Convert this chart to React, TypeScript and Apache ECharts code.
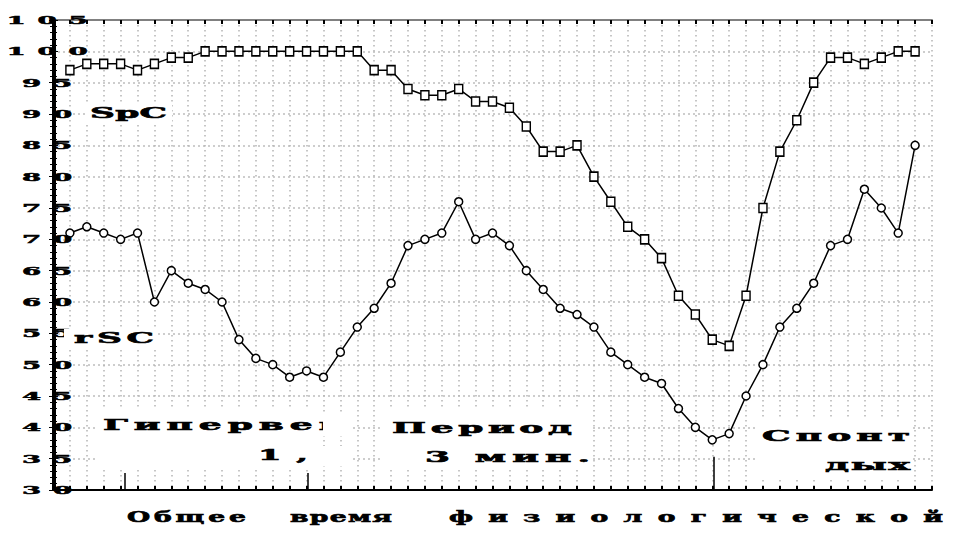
import React, { useEffect, useRef } from 'react';
import * as echarts from 'echarts';

// measurement number (sample index along the time axis)
const sampleIndex: number[] = Array.from({ length: 51 }, (_, i) => i + 1);

// SpO2-like series (squares)
const spcValues: number[] = [
  97, 98, 98, 98, 97, 98, 99, 99, 100, 100,
  100, 100, 100, 100, 100, 100, 100, 100, 97, 97,
  94, 93, 93, 94, 92, 92, 91, 88, 84, 84,
  85, 80, 76, 72, 70, 67, 61, 58, 54, 53,
  61, 75, 84, 89, 95, 99, 99, 98, 99, 100,
  100,
];

// rSC series (circles)
const rscValues: number[] = [
  71, 72, 71, 70, 71, 60, 65, 63, 62, 60,
  54, 51, 50, 48, 49, 48, 52, 56, 59, 63,
  69, 70, 71, 76, 70, 71, 69, 65, 62, 59,
  58, 56, 52, 50, 48, 47, 43, 40, 38, 39,
  45, 50, 56, 59, 63, 69, 70, 78, 75, 71,
  85,
];

const yTicks: number[] = [30, 35, 40, 45, 50, 55, 60, 65, 70, 75, 80, 85, 90, 95, 100, 105];
const yTickLabels: string[] = yTicks.map((v) => String(v));

// phase boundary marks on the time axis: position, and top of the mark (in y units)
const phaseX: number[] = [4.25, 15.05, 39.1];
const phaseTop: number[] = [32.7, 32.7, 35.3];

const FAMILY = '"DejaVu Serif"';
const TICK_FONT = `bold 11px ${FAMILY}`;
const TICK_SCALE = 2.5;
const TICK_PITCH = 31;
const TICK_CENTER_X = 47;

type Note = { text: string; x: number; y: number; span: number; size: number; scale: number };
const notes: Note[] = [
  { text: 'SpC', x: 90, y: 113, span: 77, size: 15, scale: 2.3 },
  { text: 'rSC', x: 74, y: 338, span: 80, size: 15, scale: 2.3 },
  { text: 'Гипервен', x: 103, y: 425, span: 242, size: 15, scale: 2.4 },
  { text: '1,5', x: 258, y: 455, span: 88, size: 14, scale: 2.4 },
  { text: 'Период', x: 392, y: 428, span: 180, size: 15, scale: 2.4 },
  { text: '3 мин.', x: 425, y: 457, span: 165, size: 15, scale: 2.4 },
  { text: 'Спонт', x: 762, y: 436, span: 148, size: 15, scale: 2.4 },
  { text: 'дых', x: 825, y: 465, span: 85, size: 15, scale: 2.4 },
];

// x-axis caption, laid out word by word
const TITLE = 'Общее время физиологической';
const titleWords: string[] = ['Общее', 'время', 'физиологической'];
const titleWordX: number[] = [127, 290, 449];
const titleWordSpan: number[] = [119, 102, 494];
const TITLE_Y = 517;
const TITLE_SIZE = 14;
const TITLE_SCALE = 1.9;

// white boxes behind the annotations: x, y, w, h
const boxes: number[][] = [
  [86, 103, 86, 20],
  [64, 329, 94, 19],
  [97, 410, 226, 60],
  [383, 410, 210, 60],
  [755, 417, 158, 62],
];
// white patches that clip the first box's text at its right edge
const clipPatches: number[][] = [
  [323, 414, 28, 22],
  [322, 446, 30, 20],
];

let measureCtx: CanvasRenderingContext2D | null = null;
function measure(text: string, font: string): number {
  if (!measureCtx) measureCtx = document.createElement('canvas').getContext('2d');
  if (!measureCtx) return text.length * 8;
  measureCtx.font = font;
  return measureCtx.measureText(text).width;
}

function noteFont(size: number) {
  return `bold ${size}px ${FAMILY}`;
}

function spacingFor(text: string, font: string, span: number, scale: number): number {
  const n = Array.from(text).length;
  if (n < 2) return 0;
  return (span / scale - measure(text, font)) / (n - 1);
}

export default function App() {
  const ref = useRef<HTMLDivElement>(null);

  useEffect(() => {
    if (!ref.current) return;
    const chart = echarts.init(ref.current, null, { renderer: 'svg' });

    const spacingMap: Record<string, number> = {};
    const tickSpacing = TICK_PITCH / TICK_SCALE - measure('0', TICK_FONT);
    yTickLabels.forEach((t) => (spacingMap[t] = tickSpacing));
    notes.forEach((n) => (spacingMap[n.text] = spacingFor(n.text, noteFont(n.size), n.span, n.scale)));
    const labelX = TICK_CENTER_X + (TICK_SCALE * tickSpacing) / 2;

    const dotted = { color: '#b4b4b4', width: 1.5, type: [1.5, 3.5] as number[] };
    const dashed = { color: '#bdbdbd', width: 1.5, type: [2, 3] as number[] };

    const option: any = {
      animation: false,
      grid: { left: 53, right: 22, top: 20, bottom: 46, containLabel: false },
      xAxis: [
        {
          type: 'value', min: 0, max: 52, interval: 1, position: 'bottom',
          axisLine: { lineStyle: { color: '#000', width: 2 } },
          axisTick: { inside: true, length: 4, lineStyle: { color: '#000', width: 2 } },
          axisLabel: { show: false },
          splitLine: { show: true, lineStyle: dotted },
        },
        {
          type: 'value', min: 0, max: 52, interval: 1, position: 'top',
          axisLine: { lineStyle: { color: '#808080', width: 2 } },
          axisTick: { inside: true, length: 4, lineStyle: { color: '#000', width: 2 } },
          axisLabel: { show: false },
          splitLine: { show: false },
        },
      ],
      yAxis: [
        {
          type: 'value', min: 30, max: 105, interval: 5, position: 'left', offset: -2,
          axisLine: { lineStyle: { color: '#000', width: 2 } },
          axisTick: { inside: true, length: 3, lineStyle: { color: '#000', width: 1 } },
          minorTick: { show: true, splitNumber: 5, length: 2, lineStyle: { color: '#000', width: 1 } },
          axisLabel: { show: false },
          splitLine: { show: true, lineStyle: dashed },
        },
        {
          type: 'value', min: 30, max: 105, interval: 5, position: 'right',
          axisLine: { lineStyle: { color: '#000', width: 2 } },
          axisTick: { inside: true, length: 4, lineStyle: { color: '#000', width: 1 } },
          minorTick: { show: true, splitNumber: 5, length: 3, lineStyle: { color: '#000', width: 1 } },
          axisLabel: { show: false },
          splitLine: { show: false },
        },
      ],
      series: [
        {
          name: 'SpC', type: 'line', xAxisIndex: 0, yAxisIndex: 0,
          data: sampleIndex.map((x, i) => [x, spcValues[i]]),
          symbol: 'rect', symbolSize: [8, 9],
          itemStyle: { color: '#fff', borderColor: '#000', borderWidth: 1.5 },
          lineStyle: { color: '#000', width: 1.5 },
          silent: true, z: 3,
          markLine: {
            silent: true, symbol: ['none', 'none'], label: { show: false },
            lineStyle: { color: '#000', width: 1.5, type: 'solid' },
            data: phaseX.map((x, i) => [{ coord: [x, 30] }, { coord: [x, phaseTop[i]] }]),
          },
        },
        {
          name: 'rSC', type: 'line', xAxisIndex: 0, yAxisIndex: 0,
          data: sampleIndex.map((x, i) => [x, rscValues[i]]),
          symbol: 'circle', symbolSize: 8,
          itemStyle: { color: '#fff', borderColor: '#000', borderWidth: 1.5 },
          lineStyle: { color: '#000', width: 1.5 },
          silent: true, z: 3,
        },
        {
          name: 'ticks', type: 'custom', xAxisIndex: 0, yAxisIndex: 0, clip: false, silent: true, z: 5,
          data: yTicks.map((v, i) => [0, v, i]),
          renderItem: (_params: any, api: any) => {
            const v = api.value(1);
            const idx = api.value(2);
            const pt = api.coord([0, v]);
            return {
              type: 'text', x: labelX, y: pt[1], scaleX: TICK_SCALE,
              style: {
                text: yTickLabels[idx], font: TICK_FONT, fill: '#000', stroke: '#000', lineWidth: 0.5,
                align: 'center', verticalAlign: 'middle',
              },
            };
          },
        },
      ],
      graphic: [
        ...boxes.map((b) => ({
          type: 'rect', z: 6, silent: true,
          shape: { x: b[0], y: b[1], width: b[2], height: b[3] },
          style: { fill: '#fff' },
        })),
        ...notes.map((n) => ({
          type: 'text', z: 10, silent: true, x: n.x, y: n.y, scaleX: n.scale,
          style: {
            text: n.text, font: noteFont(n.size), fill: '#000', stroke: '#000', lineWidth: 0.6,
            align: 'left', verticalAlign: 'middle',
          },
        })),
        ...clipPatches.map((b) => ({
          type: 'rect', z: 12, silent: true,
          shape: { x: b[0], y: b[1], width: b[2], height: b[3] },
          style: { fill: '#fff' },
        })),
        {
          type: 'text', z: 10, silent: true, x: titleWordX[0], y: TITLE_Y, scaleX: TITLE_SCALE,
          style: {
            text: TITLE, font: noteFont(TITLE_SIZE), fill: '#000', stroke: '#000', lineWidth: 0.6,
            align: 'left', verticalAlign: 'middle',
          },
        },
      ],
    };

    chart.setOption(option);

    const titleFont = noteFont(TITLE_SIZE);
    const applySpacing = () => {
      const root = ref.current;
      if (!root) return;
      root.querySelectorAll('text').forEach((t) => {
        const content = t.textContent || '';
        if (content === TITLE) {
          if (t.getAttribute('data-laid') === '1') return;
          const baseX = parseFloat(t.getAttribute('x') || '0') || 0;
          const ns = 'http://www.w3.org/2000/svg';
          while (t.firstChild) t.removeChild(t.firstChild);
          titleWords.forEach((w, i) => {
            const last = i === titleWords.length - 1;
            const ls = spacingFor(w, titleFont, titleWordSpan[i], TITLE_SCALE);
            const chars = Array.from(w);
            const head = chars.slice(0, -1).join('');
            const tail = chars[chars.length - 1] + (last ? '' : ' ');
            const ts = document.createElementNS(ns, 'tspan');
            ts.textContent = head;
            ts.setAttribute('letter-spacing', `${ls.toFixed(2)}px`);
            ts.setAttribute('x', `${(baseX + (titleWordX[i] - titleWordX[0]) / TITLE_SCALE).toFixed(2)}`);
            t.appendChild(ts);
            const tt = document.createElementNS(ns, 'tspan');
            tt.textContent = tail;
            tt.setAttribute('letter-spacing', '0px');
            t.appendChild(tt);
          });
          t.setAttribute('data-laid', '1');
          return;
        }
        const s = spacingMap[content];
        if (s !== undefined) t.setAttribute('letter-spacing', `${s.toFixed(2)}px`);
      });
    };
    applySpacing();
    chart.on('finished', applySpacing);

    return () => {
      chart.dispose();
    };
  }, []);

  return (
    <div
      ref={ref}
      style={{ position: 'absolute', left: 0, top: 0, width: 954, height: 536, background: '#fff' }}
    />
  );
}
